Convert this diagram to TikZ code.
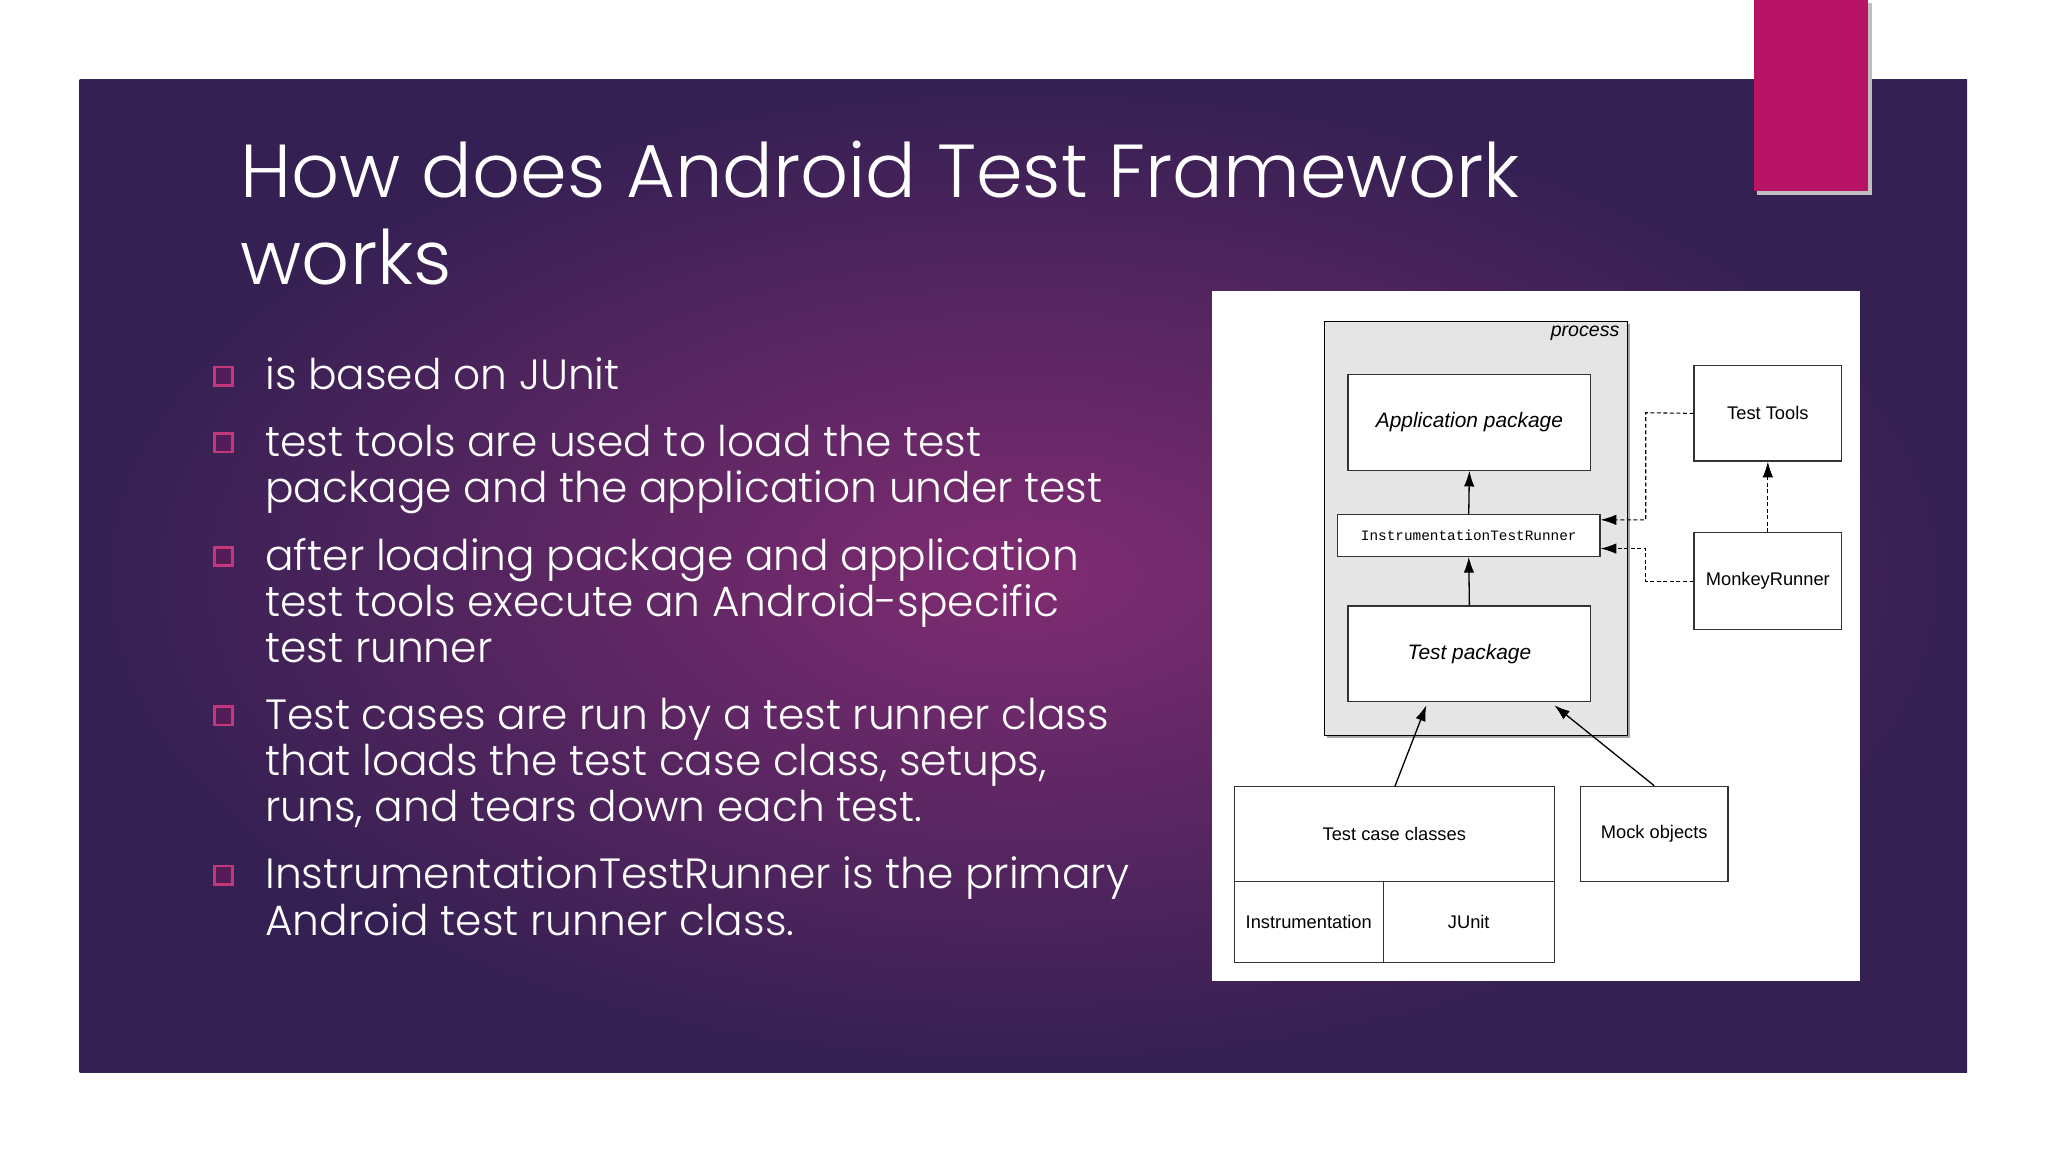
\documentclass[tikz,border=0pt]{standalone}
\usepackage{fontspec}
\setmainfont{Poppins Light}[BoldFont=Poppins]
\newfontfamily\dfont{Liberation Sans}
\newfontfamily\mfont{Liberation Mono}
\usetikzlibrary{arrows.meta,shadows}
\definecolor{pinkc}{RGB}{184,20,102}
\definecolor{pout}{RGB}{52,32,82}
\definecolor{pin}{RGB}{128,44,114}
\tikzset{
 box/.style={draw=black!80,line width=0.9pt,fill=white},
 dl/.style={font=\dfont\fontsize{14}{16}\selectfont},
 ar/.style={-{Latex[length=12pt,width=8pt]},line width=1pt},
 da/.style={-{Latex[length=12pt,width=8pt]},densely dashed,line width=0.8pt},
 bt/.style={anchor=north west,align=left,text=white,font=\fontsize{32.4}{35.3}\selectfont,inner sep=0pt},
 bq/.style={draw=pinkc!85!white,fill=pinkc!25!pout,line width=2pt,minimum size=14pt,inner sep=0pt}
}
\begin{document}
\begin{tikzpicture}[x=1pt,y=-1pt]
\useasboundingbox (0,0) rectangle (1568,882);
\fill[white] (0,0) rectangle (1568,882);
\shade[inner color=pin,outer color=pout] (61,61) rectangle (1506,821);
\fill[black!25] (1345,2) rectangle (1433,149);
\fill[pinkc] (1343,0) rectangle (1430,146);
\node[anchor=north west,align=left,text=white,inner sep=0pt,font=\fontsize{57.5}{66}\selectfont] (title) at (184,108) {How does Android Test Framework\\works};
\node[bq] (q1) at (171,288) {}; \node[bt] (b1) at (203,274) {is based on JUnit};
\node[bq] (q2) at (171,339) {}; \node[bt] (b2) at (203,325) {test tools are used to load the test\\package and the application under test};
\node[bq] (q3) at (171,426) {}; \node[bt] (b3) at (203,412) {after loading package and application\\test tools execute an Android-specific\\test runner};
\node[bq] (q4) at (171,548) {}; \node[bt] (b4) at (203,534) {Test cases are run by a test runner class\\that loads the test case class, setups,\\runs, and tears down each test.};
\node[bq] (q5) at (171,670) {}; \node[bt] (b5) at (203,656) {InstrumentationTestRunner is the primary\\Android test runner class.};
% diagram
\fill[white] (928,223) rectangle (1424,751);
\fill[black!35] (1016,248) rectangle (1248,565);
\draw[fill=black!10,line width=0.9pt] (1014,246) rectangle (1246,563);
\node[anchor=north east,inner sep=2pt,font=\dfont\itshape\fontsize{15}{16}\selectfont] (proc) at (1242,247) {process};
\node[box,dl,minimum width=186pt,minimum height=73pt,font=\dfont\itshape\fontsize{16}{18}\selectfont] (app) at (1125,323.5) {Application package};
\node[box,minimum width=201pt,minimum height=32pt,font=\mfont\fontsize{11}{12}\selectfont] (itr) at (1124.5,410) {InstrumentationTestRunner};
\node[box,dl,minimum width=186pt,minimum height=73pt,font=\dfont\itshape\fontsize{16}{18}\selectfont] (tp) at (1125,500.5) {Test package};
\node[box,dl,minimum width=113pt,minimum height=73pt] (tt) at (1353.5,316.5) {Test Tools};
\node[box,dl,minimum width=113pt,minimum height=74pt] (mr) at (1353.5,445) {MonkeyRunner};
\node[box,dl,minimum width=245pt,minimum height=73pt] (tcc) at (1067.5,638.5) {Test case classes};
\node[box,dl,minimum width=114pt,minimum height=62pt] (ins) at (1002,706) {Instrumentation};
\node[box,dl,minimum width=131pt,minimum height=62pt] (ju) at (1124.5,706) {JUnit};
\node[box,dl,minimum width=113pt,minimum height=73pt] (mo) at (1266.5,638.5) {Mock objects};
\draw[ar] (itr.north) -- (app.south);
\draw[ar] (tp.north) -- (itr.south);
\draw[ar] (1068,602) -- (1092,540);
\draw[ar] (mo.north) -- (1190,540);
\draw[da] (mr.north) -- (tt.south);
\coordinate (c1) at (1260,316); \coordinate (c2) at (1260,398);
\coordinate (c3) at (1260,445); \coordinate (c4) at (1260,420);
\draw[da] (tt.west) -- (c1) -- (c2) -- (itr.east |- c2);
\draw[da] (mr.west) -- (c3) -- (c4) -- (itr.east |- c4);
\end{tikzpicture}
\end{document}
